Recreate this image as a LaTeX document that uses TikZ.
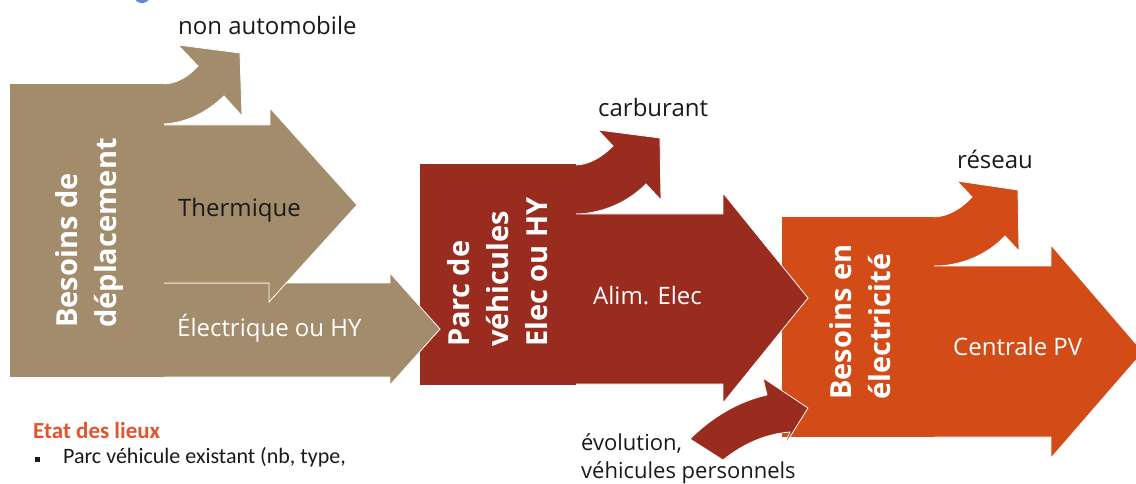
\documentclass[tikz,border=0pt]{standalone}
\usepackage{fontspec}
\setmainfont{Open Sans}
\newfontfamily\calib{Carlito}
\definecolor{tanc}{HTML}{A38C6B}
\definecolor{redc}{HTML}{9A2C1F}
\definecolor{orc}{HTML}{D34B17}
\definecolor{etatc}{HTML}{E2542B}
\definecolor{bluec}{HTML}{5B8BD0}
\definecolor{inkc}{HTML}{1A1A1A}
\begin{document}
\begin{tikzpicture}[x=1pt,y=-1pt,
  shp/.style={draw=white,line width=0.8pt,line join=miter},
  lbl/.style={font=\fontsize{24}{28}\selectfont,inner sep=0pt,anchor=base west,text=inkc},
  wlbl/.style={lbl,text=white},
  vlbl/.style={rotate=90,align=left,font=\fontsize{29}{39}\selectfont\bfseries,text=white,inner sep=0pt,anchor=base west}]
\useasboundingbox (0,0) rectangle (1136,484);
\clip (0,0) rectangle (1136,484);
\fill[white] (0,0) rectangle (1136,484);
% cut-off title glyph
\fill[bluec] (142,-2) ellipse [x radius=7,y radius=5];

% ---------- orange group ----------
\fill[orc,shp] (930,217) -- (933,217) .. controls (948,217) and (962,208) .. (972,197)
  -- (957,181) -- (1018,190) -- (1019,251) -- (1005,236)
  .. controls (988,254) and (965,264) .. (940,266) -- (930,266) -- cycle;
\fill[orc,shp] (930,266) -- (1051,266) -- (1051,245) -- (1143,352) -- (1051,458) -- (1051,437) -- (930,437) -- cycle;
\fill[orc] (782,217) rectangle (934,437);

% ---------- dark red group ----------
\fill[redc,shp] (572,165) -- (575,165) .. controls (590,165) and (603,156) .. (613,146)
  -- (598,130) -- (660,138) -- (661,200) -- (646,184)
  .. controls (628,202) and (605,212) .. (580,214) -- (572,214) -- cycle;
\fill[redc,shp] (572,214) -- (723,214) -- (723,193) -- (808,298) -- (723,403) -- (723,384) -- (572,384) -- cycle;
\fill[redc] (420,164) rectangle (576,385);

% ---------- tan group ----------
\fill[tanc,shp] (160,84) -- (163,84) .. controls (177,84) and (189,76) .. (198,66)
  -- (178,45) -- (240,53) -- (242,116) -- (224,96)
  .. controls (206,113) and (186,123) .. (163,124) -- (160,124) -- cycle;
\fill[tanc,shp] (160,283) -- (390,283) -- (390,273) -- (440,329) -- (390,385) -- (390,377) -- (160,377) -- cycle;
\fill[tanc,shp] (160,125) -- (270,125) -- (270,108) -- (357,205) -- (269,302) -- (269,283) -- (160,283) -- cycle;
\fill[tanc] (10,84) rectangle (164,377);

% ---------- evolution arrow ----------
\fill[redc,shp] (690,439) .. controls (713,416) and (740,401) .. (767,395)
  -- (763,378) -- (808,408) -- (783,448) -- (790,432)
  .. controls (765,434) and (743,444) .. (723,460) -- cycle;

% ---------- labels ----------
\node[vlbl] (besdep) at (116,328) {Besoins de\\déplacement};
\node[vlbl] (parc) at (547,347) {Parc de\\véhicules\\Elec ou HY};
\node[vlbl] (beselec) at (890,400) {Besoins en\\électricité};

\node[lbl] (nonauto) at (178,35) {non automobile};
\node[lbl] (therm) at (178,217) {Thermique};
\node[wlbl] (elec) at (177,336) {Électrique ou HY};
\node[lbl] (carb) at (598,117) {carburant};
\node[wlbl] (alim) at (593,304) {Alim. Elec};
\node[lbl] (reseau) at (957,169) {réseau};
\node[wlbl] (centrale) at (953,355) {Centrale PV};
\node[lbl,font=\fontsize{22}{28}\selectfont,align=left] (evol) at (581,478) {évolution,\\véhicules personnels};

\node[inner sep=0pt,anchor=base west,text=etatc,font=\calib\fontsize{23}{26}\selectfont\bfseries] (etat) at (33,438) {Etat des lieux};
\fill[inkc] (35,457) rectangle (40,462);
\node[inner sep=0pt,anchor=base west,text=inkc,font=\calib\fontsize{22}{26}\selectfont] (parcex) at (63,463) {Parc véhicule existant (nb, type,};
\end{tikzpicture}
\end{document}
